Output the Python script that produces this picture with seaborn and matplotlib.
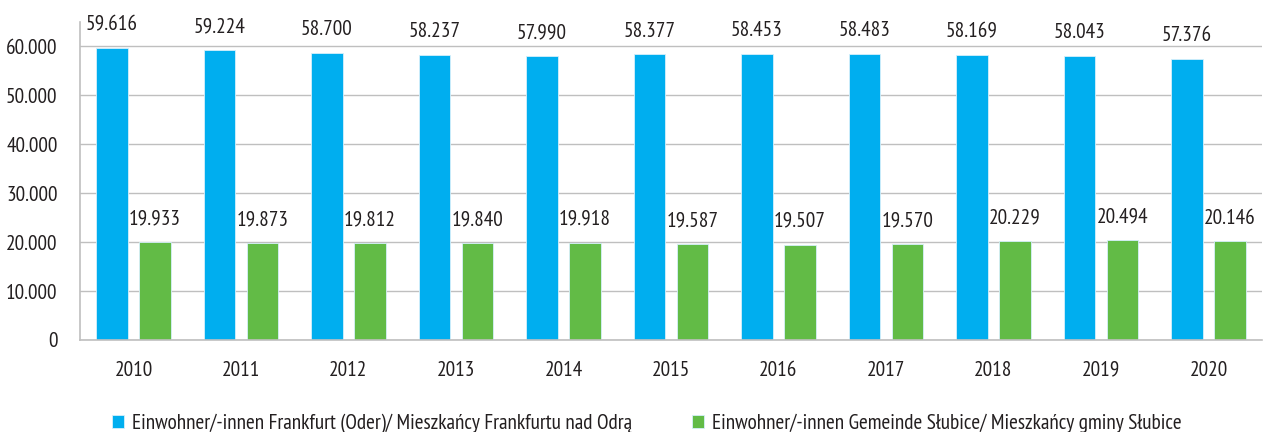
import matplotlib
matplotlib.use("Agg")
import matplotlib.pyplot as plt
import matplotlib.ticker as mticker
import pandas as pd
import seaborn as sns

years = ["2010", "2011", "2012", "2013", "2014", "2015", "2016", "2017", "2018", "2019", "2020"]
frankfurt = [59616, 59224, 58700, 58237, 57990, 58377, 58453, 58483, 58169, 58043, 57376]
slubice = [19933, 19873, 19812, 19840, 19918, 19587, 19507, 19570, 20229, 20494, 20146]
series_names = [
    "Einwohner/-innen Frankfurt (Oder)/ Mieszkańcy Frankfurtu nad Odrą",
    "Einwohner/-innen Gemeinde Słubice/ Mieszkańcy gminy Słubice",
]
colors = ["#00AEEF", "#62BB46"]

df = pd.DataFrame({"year": years * 2,
                   "value": frankfurt + slubice,
                   "series": [series_names[0]] * len(years) + [series_names[1]] * len(years)})

sns.set_style("white")
plt.rcParams["font.family"] = ["PT Sans Narrow", "DejaVu Sans"]
text_color = "#231F20"
grid_color = "#BFBFBF"
fs = 15.3

fig = plt.figure(figsize=(12.66, 4.32), dpi=100)
ax = fig.add_axes([0.063, 0.213, 0.934, 0.736])

sns.barplot(data=df, x="year", y="value", hue="series", palette=colors, saturation=1,
            width=0.8, gap=0.27, edgecolor="#D6F0FB", linewidth=0.6, ax=ax)

def fmt(v):
    return f"{v:,.0f}".replace(",", ".")

for container in ax.containers:
    ax.bar_label(container, labels=[fmt(b.get_height()) for b in container],
                 padding=10, fontsize=fs, color=text_color)

ax.set_ylim(0, 65000)
ax.set_xlim(-0.5, len(years) - 0.5)
ax.set_yticks(range(0, 60001, 10000))
ax.yaxis.set_major_formatter(mticker.FuncFormatter(lambda v, p: fmt(v)))
ax.yaxis.grid(True, color=grid_color, linewidth=1)
ax.set_axisbelow(True)

ax.set_xticks([i - 0.5 for i in range(len(years) + 1)], minor=True)
ax.tick_params(axis="x", which="major", length=0, pad=15, labelsize=fs, labelcolor=text_color)
ax.tick_params(axis="x", which="minor", length=6, width=1, color=grid_color, direction="out")
ax.tick_params(axis="y", length=7, width=1, color=grid_color, labelsize=fs, labelcolor=text_color, pad=9)

for side in ["top", "right"]:
    ax.spines[side].set_visible(False)
for side in ["left", "bottom"]:
    ax.spines[side].set_color(grid_color)
    ax.spines[side].set_linewidth(1.2)

ax.set_xlabel("")
ax.set_ylabel("")

handles, labels = ax.get_legend_handles_labels()
ax.get_legend().remove()
fig.legend(handles, labels, loc="lower center", bbox_to_anchor=(0.511, -0.048), ncol=2,
           frameon=False, fontsize=fs, handlelength=0.55, handleheight=0.6,
           handletextpad=0.4, columnspacing=2.8, labelcolor=text_color)

fig.savefig("out.png", dpi=100)
